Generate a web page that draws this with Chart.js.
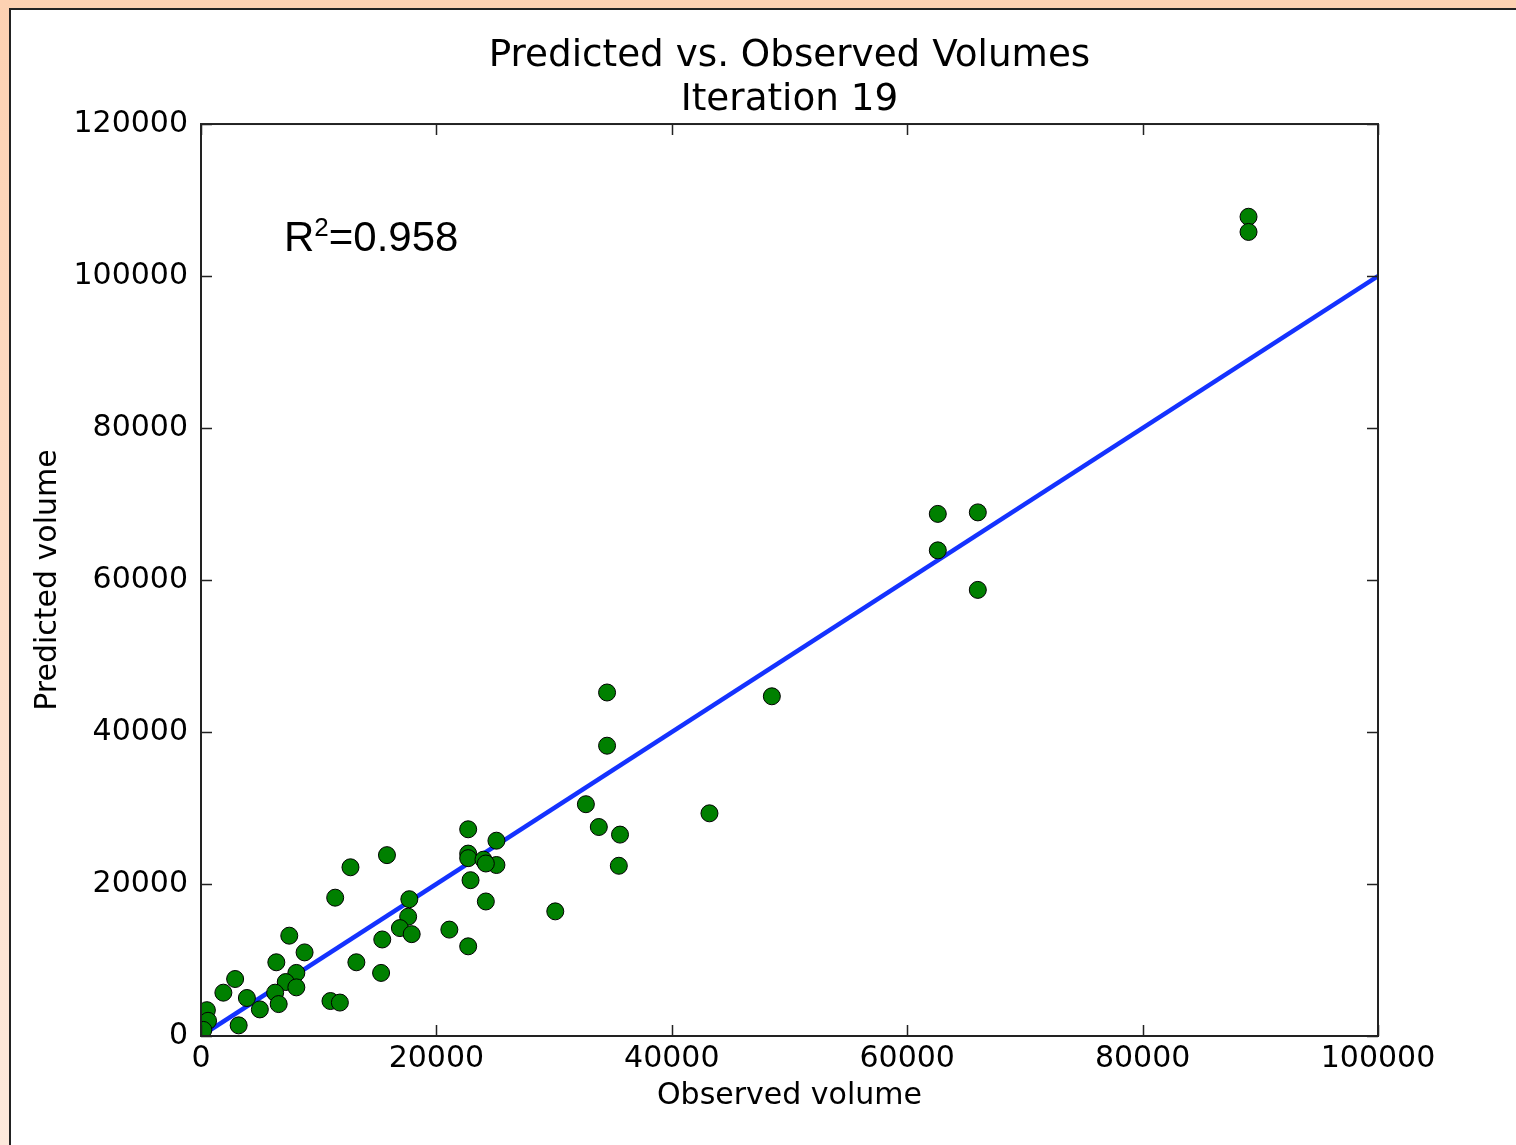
<!DOCTYPE html>
<html>
<head>
<meta charset="utf-8">
<script src="https://cdn.jsdelivr.net/npm/chart.js@4.4.1/dist/chart.umd.min.js"></script>
<style>
  html, body { margin: 0; padding: 0; }
  body {
    width: 1516px; height: 1145px; overflow: hidden; position: relative;
    background: linear-gradient(#fdd1b2, #fde9dc);
  }
  #panel {
    position: absolute; left: 9px; top: 8px; right: 0; bottom: 0;
    background: #fff; border-left: 2px solid #222; border-top: 2px solid #222;
  }
  #scatterChart { position: absolute; left: 0; top: 0; }
</style>
</head>
<body>
<div id="panel"></div>
<canvas id="scatterChart" width="1516" height="1145"></canvas>
<script>
// observed vs predicted volumes
const observed = [
  89000, 89000, 62600, 66000, 62600, 66000, 48500, 34500, 34500, 43200,
  32700, 33800, 35600, 35500, 30100, 25100, 25100, 22700, 22700, 22700,
  24000, 24200, 22900, 24200, 21100, 22700, 15800, 12700, 11400, 17700,
  17600, 16900, 17900, 15400, 13200, 15300, 11000, 11800, 7500, 8800,
  6400, 8100, 7200, 8100, 6300, 6600, 2900, 1900, 3900, 5000,
  3200, 500, 600, 200
];
const predicted = [
  107800, 105800, 68700, 68900, 63900, 58700, 44700, 45200, 38200, 29300,
  30500, 27500, 26500, 22400, 16400, 25700, 22500, 27200, 24000, 23400,
  23200, 22700, 20500, 17700, 14000, 11800, 23800, 22200, 18200, 18000,
  15700, 14200, 13400, 12700, 9700, 8300, 4600, 4400, 13200, 11000,
  9700, 8300, 7100, 6400, 5700, 4200, 7500, 5700, 5000, 3500,
  1400, 3400, 2000, 800
];
// 1:1 line
const fitX = [0, 100000];
const fitY = [0, 100000];

const xTicks = [0, 20000, 40000, 60000, 80000, 100000];
const yTicks = [0, 20000, 40000, 60000, 80000, 100000, 120000];
const rSquared = "0.958";

const mplFont = "'DejaVu Sans', sans-serif";

// matplotlib-style box with inward ticks on all four sides + R² note
const frameTicks = {
  id: "frameTicks",
  afterDatasetsDraw(chart) {
    const { ctx, chartArea: a, scales } = chart;
    const len = 11;
    ctx.save();
    ctx.strokeStyle = "#222";
    ctx.lineWidth = 1.5;
    ctx.beginPath();
    xTicks.forEach(v => {
      const px = Math.round(scales.x.getPixelForValue(v)) + 0.5;
      ctx.moveTo(px, a.bottom); ctx.lineTo(px, a.bottom - len);
      ctx.moveTo(px, a.top); ctx.lineTo(px, a.top + len);
    });
    yTicks.forEach(v => {
      const py = Math.round(scales.y.getPixelForValue(v)) + 0.5;
      ctx.moveTo(a.left, py); ctx.lineTo(a.left + len, py);
      ctx.moveTo(a.right, py); ctx.lineTo(a.right - len, py);
    });
    ctx.stroke();
    ctx.lineWidth = 2;
    ctx.strokeRect(a.left, a.top, a.right - a.left, a.bottom - a.top);

    // R² label
    ctx.fillStyle = "#000";
    ctx.textBaseline = "alphabetic";
    ctx.textAlign = "left";
    let x = a.left + 83;
    const y = a.top + 127;
    ctx.font = "42px 'Liberation Sans', Arial, sans-serif";
    ctx.fillText("R", x, y);
    x += ctx.measureText("R").width;
    ctx.font = "26px 'Liberation Sans', Arial, sans-serif";
    ctx.fillText("2", x, y - 15);
    x += ctx.measureText("2").width;
    ctx.font = "42px 'Liberation Sans', Arial, sans-serif";
    ctx.fillText("=" + rSquared, x, y);
    ctx.restore();
  }
};

const chart = new Chart(document.getElementById("scatterChart"), {
  type: "scatter",
  data: {
    datasets: [
      {
        label: "Volumes",
        data: observed.map((v, i) => ({ x: v, y: predicted[i] })),
        pointRadius: 8.5,
        pointHoverRadius: 8.5,
        backgroundColor: "#008000",
        borderColor: "#000",
        borderWidth: 1,
        order: 1
      },
      {
        type: "line",
        label: "1:1",
        data: fitX.map((v, i) => ({ x: v, y: fitY[i] })),
        borderColor: "#1432ff",
        borderWidth: 4.5,
        pointRadius: 0,
        fill: false,
        order: 2
      }
    ]
  },
  options: {
    responsive: false,
    animation: false,
    layout: { padding: { left: 26, right: 138, top: 22, bottom: 27 } },
    plugins: {
      legend: { display: false },
      tooltip: { enabled: false },
      title: {
        display: true,
        text: ["Predicted vs. Observed Volumes", "Iteration 19"],
        fullSize: false,
        color: "#000",
        font: { family: mplFont, size: 37.3, weight: "normal", lineHeight: 1.18 },
        padding: { top: 12, bottom: 2 }
      }
    },
    scales: {
      x: {
        type: "linear",
        min: 0,
        max: 100000,
        afterBuildTicks: s => { s.ticks = xTicks.map(v => ({ value: v })); },
        afterFit: s => { s.height = 82; },
        grid: { display: false, drawTicks: false },
        border: { display: false },
        ticks: {
          color: "#000",
          padding: 5,
          maxRotation: 0,
          font: { family: mplFont, size: 30 },
          callback: v => String(v)
        },
        title: {
          display: true,
          text: "Observed volume",
          color: "#000",
          font: { family: mplFont, size: 30 }
        }
      },
      y: {
        type: "linear",
        min: 0,
        max: 120000,
        afterBuildTicks: s => { s.ticks = yTicks.map(v => ({ value: v })); },
        afterFit: s => { s.width = 175; },
        grid: { display: false, drawTicks: false },
        border: { display: false },
        ticks: {
          color: "#000",
          padding: 13,
          font: { family: mplFont, size: 30 },
          callback: v => String(v)
        },
        title: {
          display: true,
          text: "Predicted volume",
          color: "#000",
          font: { family: mplFont, size: 30 }
        }
      }
    }
  },
  plugins: [frameTicks]
});
</script>
</body>
</html>
